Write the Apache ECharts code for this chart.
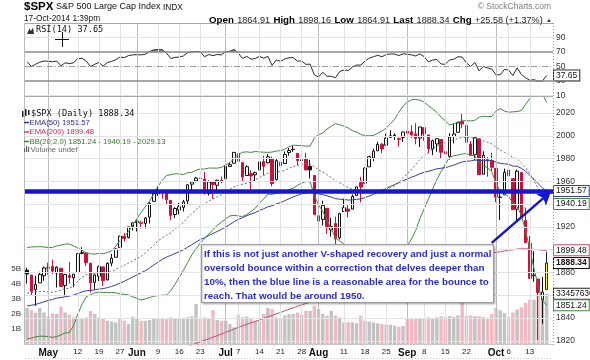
<!DOCTYPE html>
<html><head><meta charset="utf-8">
<script src="https://cdn.jsdelivr.net/npm/echarts@6/dist/echarts.min.js"></script>
<style>html,body{margin:0;padding:0;background:#fff}#c{width:590px;height:360px}</style>
</head><body><div id="c"></div>
<script>
// ---------------- DATA ----------------
const dates = ['04-24','04-25','04-28','04-29','04-30',
'05-01','05-02','05-05','05-06','05-07','05-08','05-09','05-12','05-13','05-14','05-15','05-16','05-19','05-20','05-21','05-22','05-23','05-27','05-28','05-29','05-30',
'06-02','06-03','06-04','06-05','06-06','06-09','06-10','06-11','06-12','06-13','06-16','06-17','06-18','06-19','06-20','06-23','06-24','06-25','06-26','06-27','06-30',
'07-01','07-02','07-03','07-07','07-08','07-09','07-10','07-11','07-14','07-15','07-16','07-17','07-18','07-21','07-22','07-23','07-24','07-25','07-28','07-29','07-30','07-31',
'08-01','08-04','08-05','08-06','08-07','08-08','08-11','08-12','08-13','08-14','08-15','08-18','08-19','08-20','08-21','08-22','08-25','08-26','08-27','08-28','08-29',
'09-02','09-03','09-04','09-05','09-08','09-09','09-10','09-11','09-12','09-15','09-16','09-17','09-18','09-19','09-22','09-23','09-24','09-25','09-26','09-29','09-30',
'10-01','10-02','10-03','10-06','10-07','10-08','10-09','10-10','10-13','10-14','10-15','10-16','10-17'];

const tickDates = ['05-01','05-12','05-19','05-27','06-02','06-09','06-16','06-23','07-01','07-07','07-14','07-21','07-28','08-01','08-11','08-18','08-25','09-02','09-08','09-15','09-22','10-01','10-06','10-13'];
const tickTexts = ['May','12','19','27','Jun','9','16','23','Jul','7','14','21','28','Aug','11','18','25','Sep','8','15','22','Oct','6','13'];

const prevClose0 = 1875.39;
const open = [1881.97,1877.72,1865.00,1870.78,1877.10,
1884.39,1885.30,1879.45,1883.69,1868.53,1877.39,1875.27,1880.03,1896.75,1897.13,1888.16,1871.19,1876.66,1884.88,1873.34,1888.19,1893.32,1902.01,1911.77,1910.60,1920.33,
1923.87,1923.07,1923.06,1928.52,1942.41,1948.97,1950.34,1949.37,1943.35,1930.80,1934.84,1937.15,1942.73,1957.50,1960.45,1962.92,1961.97,1949.27,1959.89,1956.56,1960.79,
1962.29,1973.06,1975.88,1984.22,1976.39,1965.10,1966.67,1965.76,1969.86,1977.36,1976.35,1979.75,1961.54,1976.93,1975.65,1985.32,1988.07,1984.60,1978.25,1980.03,1973.21,1965.14,
1929.80,1926.62,1936.34,1917.29,1923.03,1910.35,1933.43,1935.73,1935.60,1947.41,1958.87,1958.36,1972.73,1980.46,1986.82,1992.60,1991.74,1998.59,2000.54,1997.42,1998.45,
2004.07,2003.57,2001.67,1998.00,2007.17,2000.73,1988.41,1992.85,1996.74,1986.04,1981.93,1999.30,2003.07,2012.74,2009.08,1992.78,1983.34,1997.32,1966.22,1978.96,1978.21,
1971.44,1945.83,1948.12,1970.01,1962.36,1935.55,1967.68,1925.63,1905.65,1877.11,1874.18,1855.95,1864.91];
const high = [1884.06,1877.72,1877.01,1880.60,1885.20,
1888.59,1891.33,1885.51,1883.69,1878.83,1889.07,1878.57,1897.13,1902.17,1897.13,1888.16,1878.28,1886.00,1884.88,1888.80,1896.33,1901.26,1912.28,1914.46,1920.03,1924.03,
1925.88,1925.07,1928.63,1941.74,1949.44,1955.55,1950.86,1949.37,1943.35,1937.30,1941.15,1943.69,1957.74,1959.87,1963.91,1963.74,1968.17,1960.83,1959.89,1961.47,1964.24,
1978.58,1976.67,1985.59,1984.22,1976.39,1974.15,1969.84,1968.67,1979.85,1982.52,1983.94,1981.80,1979.91,1976.93,1986.24,1989.23,1991.39,1984.60,1981.52,1984.85,1978.90,1965.14,
1937.35,1942.92,1936.34,1927.91,1928.89,1932.38,1944.90,1939.65,1948.41,1955.23,1964.04,1971.99,1982.57,1988.57,1994.76,1993.54,2001.95,2005.04,2002.14,1998.55,2003.38,
2006.12,2009.28,2011.17,2007.71,2007.17,2001.01,1996.66,1997.65,1996.74,1987.18,2002.28,2010.74,2012.34,2019.26,2009.08,1995.41,1999.79,1997.32,1986.37,1981.28,1985.17,
1971.44,1952.32,1971.19,1977.84,1962.36,1970.36,1967.68,1936.98,1912.09,1898.71,1874.18,1876.01,1898.16];
const low = [1870.24,1859.70,1850.61,1870.78,1872.69,
1878.04,1878.50,1866.77,1867.72,1859.79,1870.05,1867.02,1880.03,1896.06,1885.77,1862.36,1864.82,1872.42,1868.14,1873.34,1885.39,1893.32,1902.01,1907.30,1909.82,1916.64,
1915.98,1918.79,1918.60,1922.93,1942.41,1947.16,1944.64,1940.08,1925.78,1927.69,1930.91,1933.55,1939.29,1952.26,1959.17,1958.89,1948.34,1947.49,1944.69,1952.18,1958.22,
1962.29,1972.58,1975.88,1974.88,1959.46,1965.10,1952.86,1959.63,1969.86,1965.34,1975.67,1955.59,1960.82,1965.77,1975.65,1982.44,1985.79,1974.37,1967.31,1969.95,1962.42,1930.67,
1916.37,1921.20,1913.77,1911.45,1904.78,1909.01,1933.43,1928.29,1935.60,1947.41,1941.50,1958.36,1972.73,1977.68,1986.82,1984.76,1991.74,1998.59,1996.20,1990.52,1994.65,
1994.85,1998.14,1992.54,1990.10,1995.60,1984.61,1982.99,1985.93,1980.26,1978.48,1979.06,1993.29,2003.07,2006.59,1991.01,1982.77,1978.63,1965.99,1966.22,1964.04,1968.96,
1941.72,1926.03,1948.12,1958.43,1935.10,1925.25,1927.56,1906.05,1874.14,1871.79,1820.66,1835.02,1864.91];
const close = [1878.61,1863.40,1869.43,1878.33,1883.95,
1883.68,1881.14,1884.66,1867.72,1878.21,1875.63,1878.48,1896.65,1897.45,1888.53,1870.85,1877.86,1885.08,1872.83,1888.03,1892.49,1900.53,1911.91,1909.78,1920.03,1923.57,
1924.97,1924.24,1927.88,1940.46,1949.44,1951.27,1950.79,1943.89,1930.11,1936.16,1937.78,1941.99,1956.98,1959.48,1962.87,1962.61,1949.98,1959.53,1957.22,1960.96,1960.23,
1973.32,1974.62,1985.44,1977.65,1963.71,1972.83,1964.68,1967.57,1977.10,1973.28,1981.57,1958.12,1978.22,1973.63,1983.53,1987.01,1987.98,1978.34,1978.91,1969.95,1970.07,1930.67,
1925.15,1938.99,1920.21,1920.24,1909.57,1931.59,1936.92,1933.75,1946.72,1955.18,1955.06,1971.74,1981.60,1986.51,1992.37,1988.40,1997.92,2000.02,2000.12,1996.74,2003.37,
2002.28,2000.72,1997.65,2007.71,2001.54,1988.44,1995.69,1997.45,1985.54,1984.13,1998.98,2001.57,2011.36,2010.40,1994.29,1982.77,1998.30,1965.99,1982.85,1977.80,1972.29,
1946.16,1946.17,1967.90,1964.82,1935.10,1968.89,1928.21,1906.13,1874.74,1877.70,1862.49,1862.76,1888.34];

// volume in billions
const volume = [2.40,2.26,2.08,2.40,2.10,1.84,2.04,2.00,2.50,2.10,1.95,1.78,1.73,1.67,1.78,2.20,2.00,1.78,1.67,1.55,
1.50,1.44,1.67,1.55,1.33,1.82,1.67,1.55,1.55,1.60,1.67,1.67,1.67,1.73,1.78,1.71,1.67,1.67,1.78,1.84,
2.66,1.67,1.78,1.73,2.26,1.60,1.55,1.55,1.33,1.11,1.95,1.78,1.82,1.67,1.55,1.55,2.00,2.40,2.33,1.78,
1.67,1.90,2.00,2.00,2.10,1.95,2.22,2.20,2.55,2.33,2.00,1.90,2.20,1.90,1.78,1.44,1.44,1.44,1.38,1.90,
1.55,1.50,1.44,1.38,1.33,1.29,1.29,1.22,1.15,1.20,1.67,1.67,1.73,1.73,1.67,1.78,1.70,1.78,1.85,1.80,
1.85,1.80,1.90,2.80,1.90,1.90,1.85,1.85,1.80,1.75,2.00,2.40,2.25,2.05,1.80,2.10,2.30,2.45,2.75,2.95,
2.95,3.30,3.15,3.345763];

const ema50 = [1850.7,1851.2,1851.9,1853.0,1854.2,1855.3,1856.3,1857.5,1857.9,1858.7,1859.3,1860.1,1861.5,1862.9,1863.9,1864.2,1864.7,1865.5,1865.8,1866.7,
1867.7,1869.0,1870.7,1872.2,1874.1,1876.0,1877.9,1879.7,1881.6,1883.9,1886.5,1889.1,1891.5,1893.5,1895.0,1896.6,1898.2,1899.9,1902.2,1904.4,
1906.7,1908.9,1910.5,1912.4,1914.2,1916.0,1917.8,1919.9,1922.1,1924.5,1926.6,1928.1,1929.8,1931.2,1932.6,1934.4,1935.9,1937.7,1938.5,1940.1,
1941.4,1943.0,1944.7,1946.4,1947.7,1948.9,1949.7,1950.5,1949.8,1948.8,1948.4,1947.3,1946.2,1944.8,1944.3,1944.0,1943.6,1943.7,1944.2,1944.6,
1945.7,1947.1,1948.6,1950.3,1951.8,1953.6,1955.5,1957.2,1958.8,1960.5,1962.1,1963.7,1965.0,1966.7,1968.0,1968.8,1969.9,1971.0,1971.5,1972.0,
1973.1,1974.2,1975.7,1977.0,1977.7,1977.9,1978.7,1978.2,1978.4,1978.4,1978.1,1976.9,1975.7,1975.4,1975.0,1973.4,1973.2,1971.5,1968.9,1965.2,
1961.8,1957.9,1954.2,1951.57];

const ema200 = [1772.0,1772.9,1773.9,1774.9,1776.0,1777.0,1778.1,1779.1,1780.0,1781.0,1781.9,1782.9,1784.0,1785.2,1786.2,1787.0,1787.9,1788.9,1789.7,1790.7,
1791.7,1792.8,1794.0,1795.1,1796.4,1797.6,1798.9,1800.1,1801.4,1802.8,1804.3,1805.7,1807.1,1808.5,1809.7,1810.9,1812.2,1813.5,1814.9,1816.3,
1817.7,1819.2,1820.5,1821.8,1823.2,1824.5,1825.9,1827.3,1828.8,1830.3,1831.8,1833.1,1834.4,1835.7,1837.0,1838.4,1839.7,1841.1,1842.3,1843.6,
1844.9,1846.3,1847.7,1849.0,1850.3,1851.6,1852.7,1853.9,1854.7,1855.4,1856.2,1856.8,1857.4,1857.9,1858.7,1859.4,1860.2,1861.0,1861.9,1862.9,
1863.9,1865.1,1866.3,1867.5,1868.7,1870.0,1871.3,1872.5,1873.8,1875.0,1876.3,1877.5,1878.7,1880.0,1881.2,1882.2,1883.4,1884.5,1885.5,1886.4,
1887.6,1888.7,1889.9,1891.1,1892.1,1893.0,1894.0,1894.7,1895.6,1896.4,1897.2,1897.6,1898.1,1898.8,1899.5,1899.8,1900.5,1900.8,1900.8,1900.6,
1900.3,1900.0,1899.6,1899.48];

const bbMid = [1861.7,1862.4,1863.0,1863.3,1863.2,1862.8,1862.5,1863.4,1864.6,1865.9,1866.1,1868.3,1872.4,1875.7,1878.0,1878.4,1879.1,1879.7,1879.4,1880.0,
1880.7,1882.6,1884.7,1886.3,1888.1,1890.1,1892.3,1894.2,1897.3,1900.4,1904.1,1907.7,1910.4,1912.7,1914.8,1918.1,1921.1,1923.9,1928.1,1931.7,
1935.2,1938.3,1940.2,1942.7,1944.6,1946.4,1948.2,1950.7,1953.0,1955.2,1956.6,1957.3,1958.4,1959.4,1961.3,1963.3,1965.1,1967.1,1967.1,1968.1,
1968.6,1969.7,1971.5,1972.9,1974.0,1974.9,1975.4,1975.2,1973.0,1970.0,1968.1,1965.9,1963.3,1960.5,1958.7,1956.7,1954.7,1953.0,1952.8,1951.7,
1951.6,1951.5,1951.5,1951.7,1952.2,1953.1,1954.6,1956.1,1959.4,1963.4,1966.5,1970.5,1974.4,1979.3,1982.8,1985.4,1988.5,1991.0,1992.5,1994.0,
1995.4,1996.4,1997.6,1998.5,1998.8,1998.0,1998.0,1996.3,1995.6,1994.3,1992.8,1990.1,1987.5,1985.5,1983.7,1981.0,1979.6,1976.2,1972.2,1966.7,
1960.7,1953.7,1946.3,1940.19];

const bbUpper = [1901.9,1902.4,1902.5,1902.6,1902.4,1901.9,1902.0,1903.2,1904.1,1904.9,1905.0,1903.3,1901.4,1899.6,1897.3,1896.4,1896.1,1896.7,1896.4,1897.5,
1898.9,1903.1,1908.2,1911.8,1915.9,1921.6,1927.3,1932.7,1937.8,1942.9,1949.0,1955.7,1960.9,1965.2,1965.8,1966.6,1966.6,1965.9,1967.6,1967.9,
1969.7,1970.8,1970.8,1971.7,1971.6,1971.6,1972.2,1974.5,1976.4,1980.2,1983.6,1985.5,1985.9,1985.4,1986.2,1985.8,1985.6,1985.4,1985.7,1986.6,
1987.0,1988.2,1990.3,1991.8,1991.5,1991.4,1990.9,1991.0,1998.1,2001.0,2002.4,2005.9,2008.3,2010.7,2009.7,2008.5,2006.9,2004.5,2003.3,2001.2,
2000.1,2000.0,2000.3,2002.2,2004.2,2006.6,2010.6,2014.6,2020.7,2025.9,2029.7,2031.5,2031.9,2031.3,2029.6,2026.4,2023.7,2020.5,2016.5,2013.0,
2009.6,2010.4,2012.1,2013.0,2013.3,2013.0,2013.6,2016.3,2017.2,2016.8,2017.0,2021.6,2023.9,2021.7,2020.7,2021.0,2021.3,2022.2,2027.5,2032.7,
2037.8,2039.7,2036.9,2029.13];

const bbLower = [1821.5,1822.4,1823.5,1824.0,1824.0,1823.7,1823.0,1823.6,1825.1,1826.9,1827.2,1833.3,1843.4,1851.8,1858.7,1860.4,1862.1,1862.7,1862.4,1862.5,
1862.5,1862.1,1861.2,1860.8,1860.3,1858.6,1857.3,1855.7,1856.8,1857.9,1859.2,1859.7,1859.9,1860.2,1863.8,1869.6,1875.6,1881.9,1888.6,1895.5,
1900.7,1905.8,1909.6,1913.7,1917.6,1921.2,1924.2,1926.9,1929.6,1930.2,1929.6,1929.1,1930.9,1933.4,1936.4,1940.8,1944.6,1948.8,1948.5,1949.6,
1950.2,1951.2,1952.7,1954.0,1956.5,1958.4,1959.9,1959.4,1947.9,1939.0,1933.8,1925.9,1918.3,1910.3,1907.7,1904.9,1902.5,1901.5,1902.3,1902.2,
1903.1,1903.0,1902.7,1901.2,1900.2,1899.6,1898.6,1897.6,1898.1,1900.9,1903.3,1909.5,1916.9,1927.3,1936.0,1944.4,1953.3,1961.5,1968.5,1975.0,
1981.2,1982.4,1983.1,1984.0,1984.3,1983.0,1982.4,1976.3,1974.0,1971.8,1968.6,1958.6,1951.1,1949.3,1946.7,1941.0,1937.9,1930.2,1916.9,1900.7,
1883.6,1867.7,1855.7,1851.24];

const rsi = [56.6,50,53,56,57.5,57.3,56.5,57.5,51,55,54,55,61,61.3,57.5,50,53,55.5,50.5,55.5,
57,59.5,63,62.3,65,66,66.3,66,67,70.5,73,73.5,73,68.5,61,62.5,63,64.5,69,70,
70.8,70.5,63.5,66.5,65,66.5,66,70.5,71,73.5,68.5,61,64,60,61,64,61.5,64,51.5,59,
57,60.5,62,62.3,57.5,57.5,53,53.2,38.5,35.5,42,36.5,36.5,34.5,43,45.2,44.5,49,52,52,
57.5,61.5,63.5,65.5,63.5,66.5,67.2,67.2,65,67.5,66.8,66,64.5,67.5,63.5,56.5,59,59.7,53.5,53,
59,60,63.5,63,55,50,55.5,44,50,48,46.5,38.5,38.5,46,45,37.5,48,39,34.5,31,
31.8,29.8,30,37.65];

const priceTicks = [1820,1840,1880,1920,1960,1980,2000,2020];
const priceGrid = [1820,1840,1860,1880,1900,1920,1940,1960,1980,2000,2020];
const rsiTicks = [10,30,50,70,90];
const volTicks = [1,2,3,4,5];
const bounceLevel = 1951;
const noteLines = [
 'If this is not just another V-shaped recovery and just a normal',
 'oversold bounce within a correction that delves deeper than',
 '10%, then the blue line is a reasonable area for the bounce to',
 'reach. That would be around 1950.'];

// ---------------- CHART ----------------
const F = 'Liberation Sans, Arial, sans-serif';
const MONO = 'DejaVu Sans Mono, monospace';
const RED = '#d0103a', GREEN = '#3f8a3f', NAVY = '#3c3c9e', CRIM = '#c94a72', BLUE = '#1616d2';
const N = dates.length;
const cats = dates.concat(['']);
const last = a => a[a.length - 1];
const tickMap = {}; tickDates.forEach((d, i) => tickMap[d] = tickTexts[i]);

const candle = open.map((o, i) => {
  const c = close[i], p = i ? close[i - 1] : prevClose0;
  const col = c >= p ? '#111' : RED;
  const fill = c > o ? '#fff' : col;
  let st = {color: fill, color0: fill, borderColor: col, borderColor0: col};
  if (i === N - 1) st = {color: '#ffff33', color0: '#ffff33', borderColor: '#222', borderColor0: '#222'};
  return {value: [o, c, low[i], high[i]], itemStyle: st};
});
const volData = volume.map((v, i) => {
  const p = i ? close[i - 1] : prevClose0;
  return {value: v, itemStyle: {color: close[i] < p ? '#f4b7c1' : '#c2c2c2'}};
});

function tag(value, text, border, bold) {
  return {yAxis: value, lineStyle: {color: 'rgba(0,0,0,0)', width: 0},
    label: {show: true, position: 'end', distance: 1, formatter: text, fontSize: 8.5, fontFamily: F,
      color: '#111', fontWeight: bold ? 'bold' : 'normal', backgroundColor: '#fff',
      borderColor: border, borderWidth: 1, padding: [1, 2, 0, 2]}};
}
const vGrid = tickDates.map(d => ({xAxis: d, lineStyle: {color: isNaN(+tickMap[d]) ? '#bdbdbd' : '#e3e3e3', width: 1, type: 'solid'}}));
const mlBase = {silent: true, symbol: ['none', 'none'], animation: false, label: {show: false}};
const tagML = (items) => ({silent: true, symbol: ['none', 'none'], animation: false, data: items});

const xBase = {type: 'category', data: cats, boundaryGap: true, axisLine: {show: false}, axisTick: {show: false}, axisLabel: {show: false}, splitLine: {show: false}};
const yLab = {fontSize: 8.5, color: '#333', margin: 3, fontFamily: F, formatter: v => String(v)};

const option = {
  animation: false,
  backgroundColor: '#fff',
  grid: [
    {left: 25, right: 37, top: 23, bottom: 263},
    {left: 25, right: 37, top: 97, bottom: 15},
    {left: 25, right: 37, top: 97, bottom: 16}
  ],
  xAxis: [
    Object.assign({}, xBase, {gridIndex: 0}),
    Object.assign({}, xBase, {gridIndex: 1}),
    Object.assign({}, xBase, {gridIndex: 2, axisLabel: {show: true, margin: 4, fontSize: 8, color: '#222', fontFamily: F,
      interval: (idx, val) => tickMap[val] !== undefined,
      formatter: val => { const t = tickMap[val]; return t === undefined ? '' : (isNaN(+t) ? '{m|' + t + '}' : t); },
      rich: {m: {fontSize: 10, fontWeight: 'bold', fontFamily: F, color: '#111'}}}})
  ],
  yAxis: [
    {type: 'value', gridIndex: 0, position: 'right', min: 7.93, max: 110, axisLine: {show: false}, axisTick: {show: false, customValues: rsiTicks},
      splitLine: {show: false}, axisLabel: Object.assign({customValues: rsiTicks}, yLab)},
    {type: 'value', gridIndex: 1, position: 'right', min: 1816.3, max: 2034.05, axisLine: {show: false}, axisTick: {show: false, customValues: priceTicks},
      splitLine: {show: false}, axisLabel: Object.assign({customValues: priceTicks}, yLab)},
    {type: 'value', gridIndex: 2, position: 'left', min: 0, max: 16.47, axisLine: {show: false}, axisTick: {show: false, customValues: volTicks},
      splitLine: {show: false}, axisLabel: {customValues: volTicks, fontSize: 8, color: '#333', margin: 4, fontFamily: F, formatter: v => v + 'B'}}
  ],
  series: [
    {type: 'line', xAxisIndex: 0, yAxisIndex: 0, data: [], z: 0,
      markLine: Object.assign({}, mlBase, {data: vGrid.concat([
        {yAxis: 10, lineStyle: {color: '#e3e3e3', width: 1, type: 'solid'}},
        {yAxis: 90, lineStyle: {color: '#e3e3e3', width: 1, type: 'solid'}},
        {yAxis: 70, lineStyle: {color: '#8a8a8a', width: 1.5, type: 'solid'}},
        {yAxis: 30, lineStyle: {color: '#8a8a8a', width: 1.5, type: 'solid'}},
        {yAxis: 50, lineStyle: {color: '#9a9a9a', width: 1, type: [6, 2, 1, 2]}}])})},
    {type: 'line', xAxisIndex: 0, yAxisIndex: 0, data: rsi.map(v => Math.max(v, 70)), symbol: 'none', z: 1,
      lineStyle: {width: 0}, areaStyle: {origin: 70, color: '#555'}},
    {type: 'line', xAxisIndex: 0, yAxisIndex: 0, data: rsi.map(v => Math.min(v, 30)), symbol: 'none', z: 1,
      lineStyle: {width: 0}, areaStyle: {origin: 30, color: '#555'}},
    {type: 'line', xAxisIndex: 0, yAxisIndex: 0, data: rsi, symbol: 'none', z: 2, lineStyle: {color: '#2a2a2a', width: 1},
      markLine: tagML([tag(last(rsi), last(rsi).toFixed(2), '#222', false)])},

    {type: 'line', xAxisIndex: 2, yAxisIndex: 2, data: [], z: 0,
      markLine: Object.assign({}, mlBase, {data: vGrid})},
    {type: 'line', xAxisIndex: 1, yAxisIndex: 1, data: [], z: 0,
      markLine: Object.assign({}, mlBase, {data: priceGrid.map(v => ({yAxis: v, lineStyle: {color: '#e3e3e3', width: 1, type: 'solid'}}))})},
    {type: 'bar', xAxisIndex: 2, yAxisIndex: 2, data: volData, barWidth: '80%', z: 1,
      markLine: tagML([tag(last(volume), String(Math.round(last(volume) * 1e9)), '#222', false)])},
    {type: 'candlestick', xAxisIndex: 1, yAxisIndex: 1, data: candle, barWidth: '72%', z: 3,
      itemStyle: {borderWidth: 1},
      markLine: tagML([tag(last(close), last(close).toFixed(2), '#111', true)])},
    {type: 'line', xAxisIndex: 1, yAxisIndex: 1, data: bbUpper, symbol: 'none', z: 4, lineStyle: {color: GREEN, width: 1}},
    {type: 'line', xAxisIndex: 1, yAxisIndex: 1, data: bbLower, symbol: 'none', z: 4, lineStyle: {color: GREEN, width: 1},
      markLine: tagML([tag(last(bbLower), last(bbLower).toFixed(2), GREEN, false)])},
    {type: 'line', xAxisIndex: 1, yAxisIndex: 1, data: bbMid, symbol: 'none', z: 4, lineStyle: {color: '#607060', width: 1, type: [2, 2]},
      markLine: tagML([tag(last(bbMid), last(bbMid).toFixed(2), GREEN, false)])},
    {type: 'line', xAxisIndex: 1, yAxisIndex: 1, data: ema200, symbol: 'none', z: 4, lineStyle: {color: CRIM, width: 1},
      markLine: tagML([tag(last(ema200), last(ema200).toFixed(2), CRIM, false)])},
    {type: 'line', xAxisIndex: 1, yAxisIndex: 1, data: ema50, symbol: 'none', z: 4, lineStyle: {color: NAVY, width: 1},
      markLine: tagML([tag(last(ema50), last(ema50).toFixed(2), NAVY, false)])},
    {type: 'line', xAxisIndex: 1, yAxisIndex: 1, data: [], z: 6,
      markLine: {silent: true, animation: false, label: {show: false}, symbol: ['none', 'none'], data: [
        {yAxis: bounceLevel, lineStyle: {color: BLUE, width: 4.5, type: 'solid'}},
        [{coord: [110, 1906], symbol: 'none', lineStyle: {color: BLUE, width: 2.5, type: 'solid'}},
         {coord: [124, 1951], symbol: 'arrow', symbolSize: [11, 13]}]
      ]}}
  ],
  graphic: [
    // frames
    {type: 'line', shape: {x1: 25, y1: 23.5, x2: 553, y2: 23.5}, style: {stroke: '#a8a8a8', lineWidth: 1}, z: 50, silent: true},
    {type: 'line', shape: {x1: 25, y1: 96.5, x2: 553, y2: 96.5}, style: {stroke: '#a8a8a8', lineWidth: 1}, z: 50, silent: true},
    {type: 'line', shape: {x1: 24.5, y1: 23, x2: 24.5, y2: 345}, style: {stroke: '#bcbcbc', lineWidth: 1}, z: 50, silent: true},
    {type: 'line', shape: {x1: 25, y1: 344.5, x2: 553, y2: 344.5}, style: {stroke: '#c8c8c8', lineWidth: 1}, z: 50, silent: true},
    {type: 'line', shape: {x1: 553.5, y1: 23, x2: 553.5, y2: 345}, style: {stroke: '#9a9a9a', lineWidth: 1, lineDash: [1, 2]}, z: 50, silent: true},
    {type: 'line', shape: {x1: 25, y1: 358.5, x2: 553, y2: 358.5}, style: {stroke: '#c8c8c8', lineWidth: 1, lineDash: [1, 2]}, z: 50, silent: true},
    // header
    {type: 'text', x: 24, y: 1, z: 60, style: {text: '$SPX', font: 'bold 11.5px ' + F, fill: '#000'}},
    {type: 'text', x: 56, y: 2.5, z: 60, style: {text: 'S&P 500 Large Cap Index', font: '9px ' + F, fill: '#111'}},
    {type: 'text', x: 163, y: 3.5, z: 60, style: {text: 'INDX', font: '8.3px ' + F, fill: '#111'}},
    {type: 'text', x: 24, y: 15, z: 60, style: {text: '17-Oct-2014 1:39pm', font: '8.3px ' + F, fill: '#111'}},
    {type: 'text', x: 551, y: 2, z: 60, style: {text: '\u00a9 StockCharts.com', font: '8.5px ' + F, fill: '#808080', align: 'right'}},
    {type: 'text', x: 552, y: 14, z: 60, style: {align: 'right',
      text: '{b|Open} {v|' + open[N-1].toFixed(2) + '} {b|High} {v|' + high[N-1].toFixed(2) + '} {b|Low} {v|' + low[N-1].toFixed(2) +
        '} {b|Last} {v|' + close[N-1].toFixed(2) + '} {b|Chg} {v|+25.58 (+1.37%)} {a|\u25b2}',
      rich: {b: {font: 'bold 9.7px ' + F, fill: '#000'}, v: {font: '9.1px ' + F, fill: '#222'}, a: {font: '6px ' + F, fill: '#333'}}}},
    // RSI label
    {type: 'polygon', shape: {points: [[27, 34], [29.5, 28.5], [31, 31], [33, 27.5], [34, 34]]}, style: {fill: '#333'}, z: 60},
    {type: 'text', x: 36, y: 25.5, z: 60, style: {text: 'RSI(14) ' + last(rsi).toFixed(2), font: '8.6px ' + MONO, fill: '#111'}},
    // cursor
    {type: 'line', shape: {x1: 55, y1: 39.5, x2: 69, y2: 39.5}, style: {stroke: '#111', lineWidth: 1}, z: 61},
    {type: 'line', shape: {x1: 62.5, y1: 32, x2: 62.5, y2: 47}, style: {stroke: '#111', lineWidth: 1}, z: 61},
    // price legend
    {type: 'rect', shape: {x: 22, y: 111, width: 1.5, height: 6}, style: {fill: '#222'}, z: 60},
    {type: 'rect', shape: {x: 25, y: 109, width: 1.5, height: 7}, style: {fill: '#222'}, z: 60},
    {type: 'rect', shape: {x: 28, y: 110, width: 1.5, height: 5}, style: {fill: '#222'}, z: 60},
    {type: 'text', x: 31, y: 109.5, z: 60, style: {text: '$SPX (Daily) ' + last(close).toFixed(2), font: '8.6px ' + MONO, fill: '#111'}},
    {type: 'line', shape: {x1: 24, y1: 122.5, x2: 29, y2: 122.5}, style: {stroke: NAVY, lineWidth: 1.6}, z: 60},
    {type: 'text', x: 29.5, y: 118.5, z: 60, style: {text: 'EMA(50) ' + last(ema50).toFixed(2), font: '7.7px ' + F, fill: '#2d2d8c'}},
    {type: 'line', shape: {x1: 24, y1: 132, x2: 29, y2: 132}, style: {stroke: CRIM, lineWidth: 1.6}, z: 60},
    {type: 'text', x: 29.5, y: 128, z: 60, style: {text: 'EMA(200) ' + last(ema200).toFixed(2), font: '7.7px ' + F, fill: '#c2305c'}},
    {type: 'line', shape: {x1: 24, y1: 141.5, x2: 29, y2: 141.5}, style: {stroke: GREEN, lineWidth: 1.6}, z: 60},
    {type: 'text', x: 29.5, y: 137.5, z: 60, style: {text: 'BB(20,2.0) ' + last(bbLower).toFixed(2) + ' - ' + last(bbMid).toFixed(2) + ' - ' + last(bbUpper).toFixed(2), font: '7.7px ' + F, fill: '#2f7a2f'}},
    {type: 'rect', shape: {x: 24, y: 148, width: 1.2, height: 4}, style: {fill: '#666'}, z: 60},
    {type: 'rect', shape: {x: 26, y: 146, width: 1.2, height: 6}, style: {fill: '#666'}, z: 60},
    {type: 'rect', shape: {x: 28, y: 147, width: 1.2, height: 5}, style: {fill: '#666'}, z: 60},
    {type: 'text', x: 30.5, y: 146, z: 60, style: {text: 'Volume undef', font: '7.7px ' + F, fill: '#666'}},
    // annotation box
    {type: 'rect', z: 70, shape: {x: 201.5, y: 244.5, width: 292, height: 58},
      style: {fill: '#fff', stroke: '#9c9c9c', lineWidth: 1, shadowBlur: 2, shadowOffsetX: 1, shadowOffsetY: 1, shadowColor: 'rgba(0,0,0,0.25)'}},
    {type: 'text', z: 71, x: 204, y: 247, style: {text: noteLines.join('\n'), font: 'bold 9.8px ' + F, fill: '#2b2bd2', lineHeight: 14}}
  ]
};
const chart = echarts.init(document.getElementById('c'), null, {renderer: 'canvas'});
chart.setOption(option);
</script></body></html>
